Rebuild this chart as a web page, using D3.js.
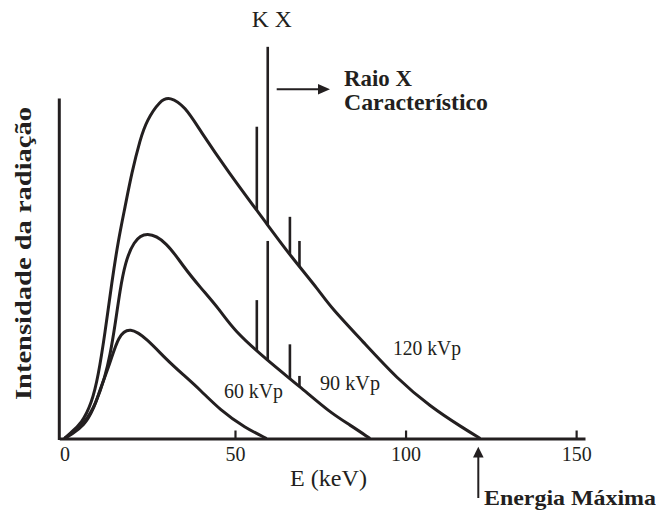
<!DOCTYPE html>
<html><head><meta charset="utf-8">
<script src="https://cdn.jsdelivr.net/npm/d3@7"></script>
<style>
body{margin:0;background:#fff}
svg{display:block}
text{font-family:"Liberation Serif","Times New Roman",serif;fill:#231f20}
</style>
</head><body>
<svg id="c" width="656" height="513"></svg>
<script>
// ---- data (keV vs relative intensity) ----
const energy120 = [0, 1.6, 5.1, 8.0, 9.9, 11.9, 13.9, 15.8, 17.8, 19.7, 22.2, 24.1, 28.0, 30.9, 35.4, 39.7, 47.6, 60.3, 66.2, 74.9, 77.9, 87.6, 97.4, 107.2, 117.0, 121.9];
const intensity120 = [0, 1.5, 4.5, 10.4, 18.2, 31.0, 46.0, 58.4, 68.2, 78.0, 88.0, 93.5, 99.4, 100.6, 97.6, 90.7, 79.0, 61.8, 53.8, 43.2, 38.8, 28.4, 17.7, 9.4, 3.0, 0];
const energy90 = [0, 2.2, 6.0, 9.3, 11.9, 13.4, 14.8, 16.3, 17.8, 20.2, 24.1, 30.0, 34.9, 39.7, 45.6, 49.5, 59.3, 69.1, 77.9, 83.7, 89.6];
const intensity90 = [0, 1.6, 4.6, 10.4, 18.1, 24.6, 33.0, 43.7, 51.6, 58.0, 61.0, 57.8, 50.5, 44.6, 37.8, 32.0, 23.1, 15.2, 7.6, 4.0, 0];
const energy60 = [0, 2.2, 5.7, 8.5, 10.4, 13.4, 15.8, 19.2, 24.1, 30.0, 34.9, 39.8, 45.6, 53.0, 59.3];
const intensity60 = [0, 1.3, 3.7, 8.4, 14.3, 22.1, 30.3, 32.8, 29.4, 23.1, 18.7, 14.3, 8.4, 3.1, 0];
// characteristic (K) lines
const kEnergies = [56.4, 59.6, 66.1, 68.9];
const kTop120 = [91.7, 115.2, 65.2, 58.1];
const kTop90 = [40.7, 58.1, 27.7, 18.4];
// ticks & labels
const xTicks = [0, 50, 100, 150];
const seriesLabels = ["60 kVp", "90 kVp", "120 kVp"];
const xTitle = "E (keV)";
const yTitle = "Intensidade da radiação";

const ink = "#231f20";
const svg = d3.select("#c");
const x = d3.scaleLinear().domain([-1.5, 152.6]).range([59.3, 585]);
const y = d3.scaleLinear().domain([0, 100]).range([438.5, 98.5]);

const line = d3.line().x(d => x(d[0])).y(d => y(d[1])).curve(d3.curveBasis);
const series = [
  {E: energy60, I: intensity60},
  {E: energy90, I: intensity90},
  {E: energy120, I: intensity120}
];
const paths = series.map(s => svg.append("path")
  .attr("d", line(s.E.map((e, i) => [e, s.I[i]])))
  .attr("fill", "none").attr("stroke", ink).attr("stroke-width", 3)
  .attr("stroke-linejoin", "round").node());

function yAt(node, px) {
  let lo = 0, hi = node.getTotalLength();
  for (let i = 0; i < 40; i++) {
    const mid = (lo + hi) / 2;
    if (node.getPointAtLength(mid).x < px) lo = mid; else hi = mid;
  }
  return node.getPointAtLength((lo + hi) / 2).y;
}

// K lines on 120 and 90 kVp spectra
[[kTop120, paths[2]], [kTop90, paths[1]]].forEach(([tops, node]) => {
  kEnergies.forEach((e, i) => {
    const px = x(e);
    svg.append("line").attr("x1", px).attr("x2", px)
      .attr("y1", y(tops[i])).attr("y2", yAt(node, px))
      .attr("stroke", ink).attr("stroke-width", 2.6);
  });
});

// axes
const xAxis = d3.axisBottom(x).tickValues(xTicks).tickSizeInner(-8).tickSizeOuter(0).tickPadding(8).tickFormat(d3.format("d"));
const gx = svg.append("g").attr("transform", `translate(0,${y(0)})`).call(xAxis);
gx.select(".domain").attr("stroke", ink).attr("stroke-width", 3);
gx.selectAll(".tick line").attr("stroke", ink).attr("stroke-width", 2.2)
  .filter(d => d === 0).remove();
gx.selectAll(".tick text").attr("fill", ink).attr("font-size", 20)
  .attr("font-family", '"Liberation Serif","Times New Roman",serif');

svg.append("line").attr("x1", x(-1.5)).attr("x2", x(-1.5))
  .attr("y1", y(0) + 1.5).attr("y2", y(100))
  .attr("stroke", ink).attr("stroke-width", 3);

// axis titles
svg.append("text").attr("x", 290).attr("y", 486).attr("font-size", 23)
  .attr("textLength", 77).attr("lengthAdjust", "spacingAndGlyphs").text(xTitle);
svg.append("text").attr("transform", "translate(31,253.5) rotate(-90)")
  .attr("text-anchor", "middle").attr("font-size", 24).attr("font-weight", "bold")
  .attr("textLength", 293).attr("lengthAdjust", "spacingAndGlyphs").text(yTitle);

// series labels
const labelPos = [[224, 398.3, 59], [320, 390, 60], [393, 355, 68]];
seriesLabels.forEach((t, i) => {
  svg.append("text").attr("x", labelPos[i][0]).attr("y", labelPos[i][1])
    .attr("font-size", 20).attr("textLength", labelPos[i][2])
    .attr("lengthAdjust", "spacingAndGlyphs").text(t);
});

// K X label
svg.append("text").attr("x", 251.7).attr("y", 27).attr("font-size", 23)
  .attr("textLength", 40).attr("lengthAdjust", "spacingAndGlyphs").text("K X");

// Raio X characteristic arrow + text
svg.append("line").attr("x1", 276.7).attr("x2", 320).attr("y1", 89.3).attr("y2", 89.3)
  .attr("stroke", ink).attr("stroke-width", 2);
svg.append("path").attr("d", "M318,84 L330,89.3 L318,94.6 Z").attr("fill", ink);
svg.append("text").attr("x", 344).attr("y", 86).attr("font-size", 23).attr("font-weight", "bold")
  .attr("textLength", 68).attr("lengthAdjust", "spacingAndGlyphs").text("Raio X");
svg.append("text").attr("x", 344).attr("y", 110).attr("font-size", 23).attr("font-weight", "bold")
  .attr("textLength", 144).attr("lengthAdjust", "spacingAndGlyphs").text("Característico");

// Energia Máxima arrow + text
svg.append("line").attr("x1", 478.3).attr("x2", 478.3).attr("y1", 498).attr("y2", 455)
  .attr("stroke", ink).attr("stroke-width", 2);
svg.append("path").attr("d", "M473,457.5 L478.3,446.7 L483.6,457.5 Z").attr("fill", ink);
svg.append("text").attr("x", 484).attr("y", 505).attr("font-size", 21).attr("font-weight", "bold")
  .attr("textLength", 172).attr("lengthAdjust", "spacingAndGlyphs").text("Energia Máxima");
</script>
</body></html>
